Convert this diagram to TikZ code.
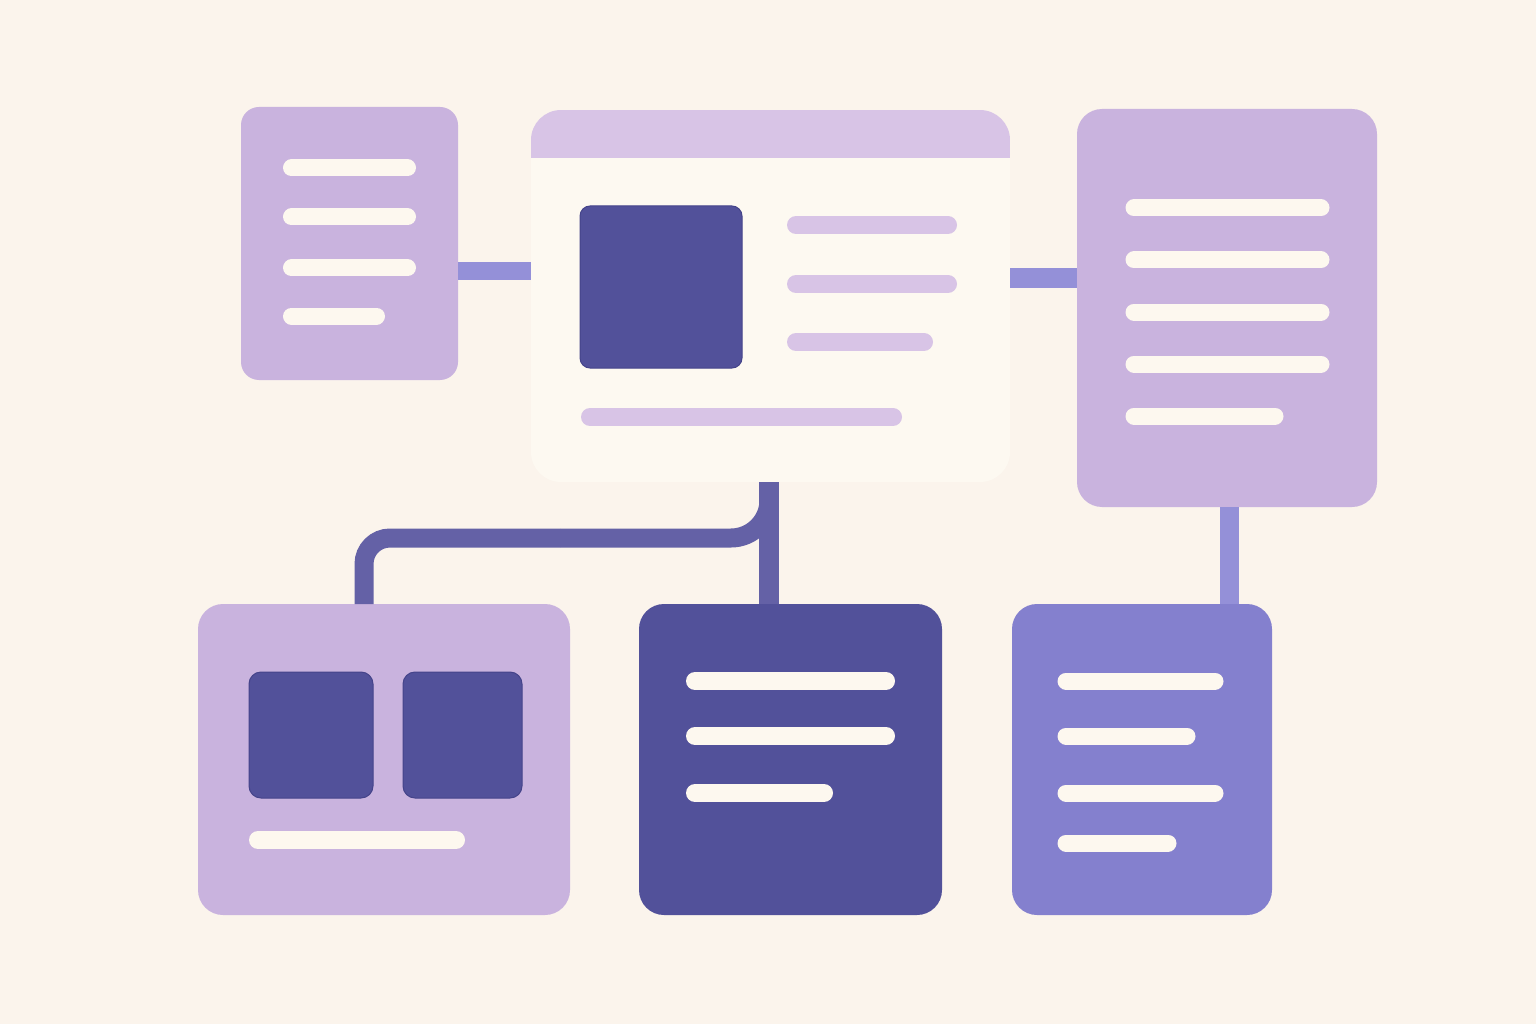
\documentclass[tikz,border=0pt]{standalone}
\usepackage{tikz}

\definecolor{bgc}{HTML}{FBF4EC}
\definecolor{lav}{HTML}{C9B3DE}
\definecolor{hdr}{HTML}{D8C4E6}
\definecolor{paper}{HTML}{FDF9F1}
\definecolor{barc}{HTML}{FDF8EF}
\definecolor{navy}{HTML}{52519A}
\definecolor{navyd}{HTML}{45448A}
\definecolor{peri}{HTML}{8480CE}
\definecolor{linkc}{HTML}{9490D8}
\definecolor{linkd}{HTML}{6461A6}

\begin{document}
\begin{tikzpicture}[x=1pt,y=-1pt,
    card/.style={rectangle,rounded corners=25pt,inner sep=0pt,outer sep=0pt},
    bar/.style={line width=17pt,line cap=round,draw=barc},
    link/.style={line width=19pt,draw=linkc},
    tile/.style={fill=navy,draw=navyd,line width=1pt,rounded corners=10pt}]
        \useasboundingbox (0,0) rectangle (1536,1024);
        \fill[bgc] (0,0) rectangle (1536,1024);

        % boxes
        \node[card,fill=lav,rounded corners=18pt,minimum width=217pt,minimum height=273pt] (docL) at (349.5,243.5) {};
        \node[card,fill=paper,rounded corners=30pt,minimum width=479pt,minimum height=372pt] (win) at (770.5,296) {};
        \node[card,fill=lav,minimum width=300pt,minimum height=398pt] (docR) at (1227,308) {};
        \node[card,fill=lav,minimum width=372pt,minimum height=311pt] (cardL) at (384,759.5) {};
        \node[card,fill=navy,minimum width=303pt,minimum height=311pt] (cardM) at (790.5,759.5) {};
        \node[card,fill=peri,minimum width=260pt,minimum height=311pt] (docS) at (1142,759.5) {};

        % window header
        \begin{scope}
            \clip[rounded corners=30pt] (win.north west) rectangle (win.south east);
            \fill[hdr] (win.north west) rectangle (win.east |- 0,158);
        \end{scope}

        % connectors
        \draw[link,line width=18pt] (docL.east |- 0,271)--(win.west |- 0,271);
        \draw[link,line width=20pt] (win.east |- 0,278)--(docR.west |- 0,278);
        \draw[link] (docR.south -| 1229,0)--(docS.north -| 1229,0);
        \draw[link,draw=linkd,line width=20pt] (win.south -| 769,0)--(cardM.north -| 769,0);
        \coordinate (jn) at (560,538);
        \draw[link,draw=linkd,rounded corners=38pt] (win.south -| 769,0) |- (jn);
        \draw[link,draw=linkd,rounded corners=26pt] (jn) -| (cardL.north -| 364,0);

        % text bars
        \foreach \y in {168,217,268}
        {
            \draw[bar] (291.5,\y)--(407.5,\y);
        }
        \draw[bar] (291.5,316)--(376.5,316);

        \foreach \y in {225,284}
        {
            \draw[bar,draw=hdr,line width=18pt] (796,\y)--(948,\y);
        }
        \draw[bar,draw=hdr,line width=18pt] (796,342)--(924,342);
        \draw[bar,draw=hdr,line width=18pt] (590,417)--(893,417);
        \draw[tile] (580,206) rectangle (742,368);

        \foreach \y in {208,260,312,364}
        {
            \draw[bar] (1134,\y)--(1321,\y);
        }
        \draw[bar] (1134,416)--(1275,416);

        \draw[tile,rounded corners=12pt] (249,672) rectangle (373,798);
        \draw[tile,rounded corners=12pt] (403,672) rectangle (522,798);
        \draw[bar,line width=18pt] (258,840)--(456,840);

        \foreach \y in {681,736}
        {
            \draw[bar,line width=18pt] (695,\y)--(886,\y);
        }
        \draw[bar,line width=18pt] (695,793)--(824,793);

        \foreach \y in {681,793}
        {
            \draw[bar] (1066,\y)--(1215,\y);
        }
        \draw[bar] (1066,736)--(1187,736);
        \draw[bar] (1066,843)--(1168,843);

    \end{tikzpicture}
\end{document}
